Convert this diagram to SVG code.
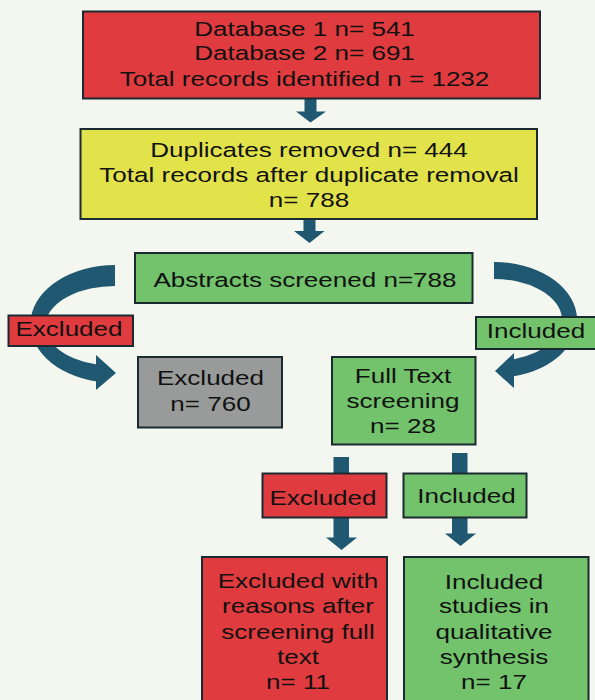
<svg xmlns="http://www.w3.org/2000/svg" width="595" height="700" viewBox="0 0 595 700">
<style>
.bg{fill:#f4f7ef}
.box{stroke:#1b2a30;stroke-width:2}
.red{fill:#e03b3e}
.yel{fill:#e2e34b}
.grn{fill:#72c36c}
.gry{fill:#999b9a}
.arr{fill:#1f5870}
.t{font-family:"Liberation Sans",Arial,sans-serif;font-size:20.5px;fill:#111;text-anchor:middle}
</style>
<rect class="bg" x="0" y="0" width="595" height="700"/>
<g id="connectors">
  <path class="arr" d="M304.5,98 H316.5 V111.5 H326 L310.5,122.5 L296,111.5 H304.5 Z"/>
  <path class="arr" d="M303.5,219 H315.5 V231 H324.5 L309.5,243 L294,231 H303.5 Z"/>
  <path class="arr" d="M115,265 A85,59 0 0,0 97,381.6 L97,364.6 A70,40 0 0,1 115,286 Z"/>
  <polygon class="arr" points="96,355 116,373 96,390"/>
  <path class="arr" d="M494,262 A83,58 0 0,1 514,376.3 L514,359.2 A68,41 0 0,0 494,279 Z"/>
  <polygon class="arr" points="514,353 495,371 514,388"/>
  <path class="arr" d="M333.5,457 H349 V537.5 H357 L341.5,550 L326,537.5 H333.5 Z"/>
  <path class="arr" d="M452,453 H467.5 V533.5 H476 L460.5,546 L445,533.5 H452 Z"/>
</g>
<g id="identified">
  <rect class="box red" x="83" y="11.5" width="457" height="87"/>
  <text class="t" transform="translate(304.5,0) scale(1.27,1)"><tspan x="0" y="35.7">Database 1 n= 541</tspan><tspan x="0" y="60.5">Database 2 n= 691</tspan><tspan x="0" y="86">Total records identified n = 1232</tspan></text>
</g>
<g id="duplicates">
  <rect class="box yel" x="80.5" y="129" width="456.5" height="90"/>
  <text class="t" transform="translate(309,0) scale(1.27,1)"><tspan x="0" y="157">Duplicates removed n= 444</tspan><tspan x="0" y="182.5">Total records after duplicate removal</tspan><tspan x="0" y="207.5">n= 788</tspan></text>
</g>
<g id="abstracts">
  <rect class="box grn" x="135" y="253" width="337.5" height="50"/>
  <text class="t" transform="translate(305,0) scale(1.27,1)"><tspan x="0" y="287">Abstracts screened n=788</tspan></text>
</g>
<g id="label-excluded-1">
  <rect class="box red" x="8.5" y="315.5" width="124.5" height="30.5"/>
  <text class="t" transform="translate(69,0) scale(1.27,1)"><tspan x="0" y="336.5">Excluded</tspan></text>
</g>
<g id="label-included-1">
  <rect class="box grn" x="476" y="317" width="122" height="32"/>
  <text class="t" transform="translate(536,0) scale(1.27,1)"><tspan x="0" y="338.5">Included</tspan></text>
</g>
<g id="excluded-760">
  <rect class="box gry" x="138" y="357" width="144" height="70.5"/>
  <text class="t" transform="translate(210.5,0) scale(1.27,1)"><tspan x="0" y="385.5">Excluded</tspan><tspan x="0" y="411">n= 760</tspan></text>
</g>
<g id="fulltext">
  <rect class="box grn" x="332" y="357" width="143.5" height="87.5"/>
  <text class="t" transform="translate(403,0) scale(1.27,1)"><tspan x="0" y="383">Full Text</tspan><tspan x="0" y="408.5">screening</tspan><tspan x="0" y="433.5">n= 28</tspan></text>
</g>
<g id="label-excluded-2">
  <rect class="box red" x="262.5" y="473.5" width="124" height="44"/>
  <text class="t" transform="translate(323,0) scale(1.27,1)"><tspan x="0" y="505">Excluded</tspan></text>
</g>
<g id="label-included-2">
  <rect class="box grn" x="403.5" y="473.5" width="123" height="44"/>
  <text class="t" transform="translate(466.5,0) scale(1.27,1)"><tspan x="0" y="503">Included</tspan></text>
</g>
<g id="excluded-11">
  <rect class="box red" x="202" y="557" width="185" height="150"/>
  <text class="t" transform="translate(298,0) scale(1.27,1)"><tspan x="0" y="588.5">Excluded with</tspan><tspan x="0" y="613.5">reasons after</tspan><tspan x="0" y="639">screening full</tspan><tspan x="0" y="664">text</tspan><tspan x="0" y="689.5">n= 11</tspan></text>
</g>
<g id="included-17">
  <rect class="box grn" x="404" y="557" width="184.5" height="150"/>
  <text class="t" transform="translate(494,0) scale(1.27,1)"><tspan x="0" y="589">Included</tspan><tspan x="0" y="613.5">studies in</tspan><tspan x="0" y="639">qualitative</tspan><tspan x="0" y="664">synthesis</tspan><tspan x="0" y="689.5">n= 17</tspan></text>
</g>
</svg>
